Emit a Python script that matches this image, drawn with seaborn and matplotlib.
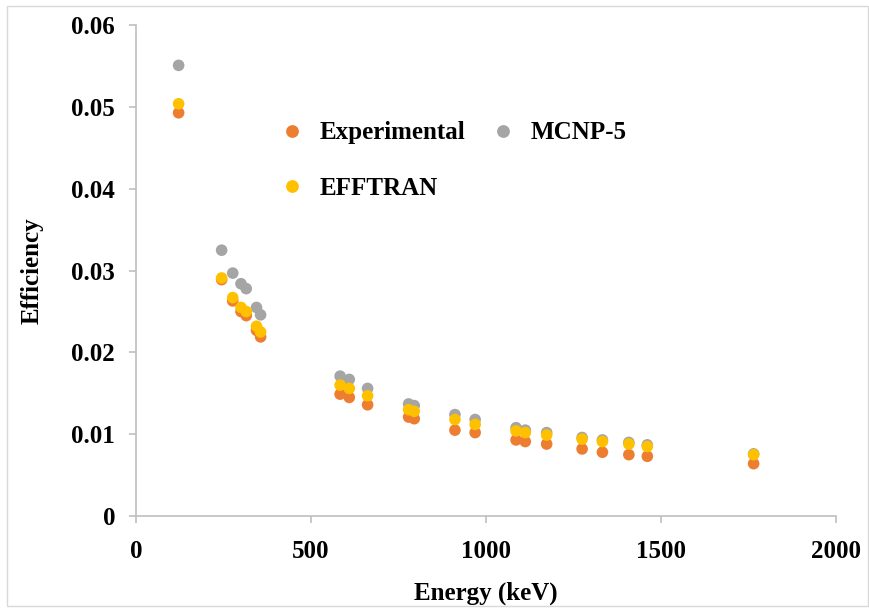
import numpy as np
import pandas as pd
import matplotlib
matplotlib.use("Agg")
import matplotlib.pyplot as plt
import seaborn as sns
from matplotlib.ticker import FuncFormatter

energy = [121.8, 244.7, 276.4, 300, 315, 344.3, 356.0, 583.2, 609.3, 661.7, 778.9, 794.9,
          911.2, 968.9, 1085.8, 1112.1, 1173.2, 1274.5, 1332.5, 1408.0, 1460.8, 1764.5]
experimental = [0.0493, 0.0289, 0.0263, 0.0250, 0.0245, 0.0227, 0.0219, 0.0149, 0.0145, 0.0136,
                0.0121, 0.0119, 0.0105, 0.0102, 0.0093, 0.0091, 0.0088, 0.0082, 0.0078, 0.0075,
                0.0073, 0.0064]
mcnp5 = [0.0551, 0.0325, 0.0297, 0.0284, 0.0278, 0.0255, 0.0246, 0.0171, 0.0167, 0.0156,
         0.0137, 0.0135, 0.0124, 0.0118, 0.0108, 0.0105, 0.0102, 0.0096, 0.0093, 0.0090,
         0.0087, 0.0076]
efftran = [0.0504, 0.0291, 0.0267, 0.0255, 0.0250, 0.0232, 0.0225, 0.0160, 0.0156, 0.0147,
           0.0130, 0.0128, 0.0118, 0.0112, 0.0104, 0.0102, 0.0099, 0.0094, 0.0091, 0.0088,
           0.0085, 0.0075]
series = ["Experimental", "MCNP-5", "EFFTRAN"]
colors = {"Experimental": "#ED7D31", "MCNP-5": "#A5A5A5", "EFFTRAN": "#FFC000"}

df = pd.DataFrame({
    "Energy": energy * 3,
    "Efficiency": experimental + mcnp5 + efftran,
    "Series": np.repeat(series, len(energy)),
})

sns.set_style("white")
plt.rcParams["font.family"] = ["Liberation Serif", "DejaVu Serif"]
plt.rcParams["font.weight"] = "bold"
plt.rcParams["text.color"] = "black"
plt.rcParams["axes.labelcolor"] = "black"
plt.rcParams["xtick.color"] = "black"
plt.rcParams["ytick.color"] = "black"

fig = plt.figure(figsize=(8.7, 6.09), dpi=100)
ax = fig.add_axes([0.1563, 0.1527, 0.8047, 0.8058])

sns.scatterplot(data=df, x="Energy", y="Efficiency", hue="Series", hue_order=series,
                palette=colors, s=70, linewidth=0, ax=ax, legend=True)

ax.set_xlim(0, 2000)
ax.set_ylim(0, 0.06)
ax.set_xticks([0, 500, 1000, 1500, 2000])
ax.set_yticks([0, 0.01, 0.02, 0.03, 0.04, 0.05, 0.06])
ax.yaxis.set_major_formatter(FuncFormatter(lambda v, p: "0" if v == 0 else f"{v:.2f}"))

for s in ["top", "right"]:
    ax.spines[s].set_visible(False)
for s in ["left", "bottom"]:
    ax.spines[s].set_color("#BFBFBF")
    ax.spines[s].set_linewidth(1.2)
ax.tick_params(axis="both", which="major", direction="out", length=5, width=1.2,
               color="#BFBFBF", labelcolor="black", labelsize=18, left=True, bottom=True)
ax.tick_params(axis="x", pad=12)
ax.tick_params(axis="y", pad=10)
for lab in ax.get_xticklabels() + ax.get_yticklabels():
    lab.set_fontweight("bold")

ax.set_xlabel("Energy (keV)", fontsize=18, fontweight="bold", labelpad=14)
ax.set_ylabel("Efficiency", fontsize=18, fontweight="bold", labelpad=20)

handles, labels = ax.get_legend_handles_labels()
order = [labels.index(n) for n in ["Experimental", "EFFTRAN", "MCNP-5"]]
leg = ax.legend([handles[i] for i in order], [labels[i] for i in order], ncol=2,
                frameon=False, loc="upper left", bbox_to_anchor=(0.155, 0.85),
                prop={"size": 18, "weight": "bold"}, handletextpad=0.1,
                columnspacing=0.5, labelspacing=1.3, markerscale=1.1)
for t in leg.get_texts():
    t.set_color("black")

fig.patches.append(plt.Rectangle((0.008, 0.005), 0.99, 0.985, transform=fig.transFigure,
                                 fill=False, edgecolor="#D9D9D9", linewidth=1))

fig.savefig("out.png", dpi=100)
